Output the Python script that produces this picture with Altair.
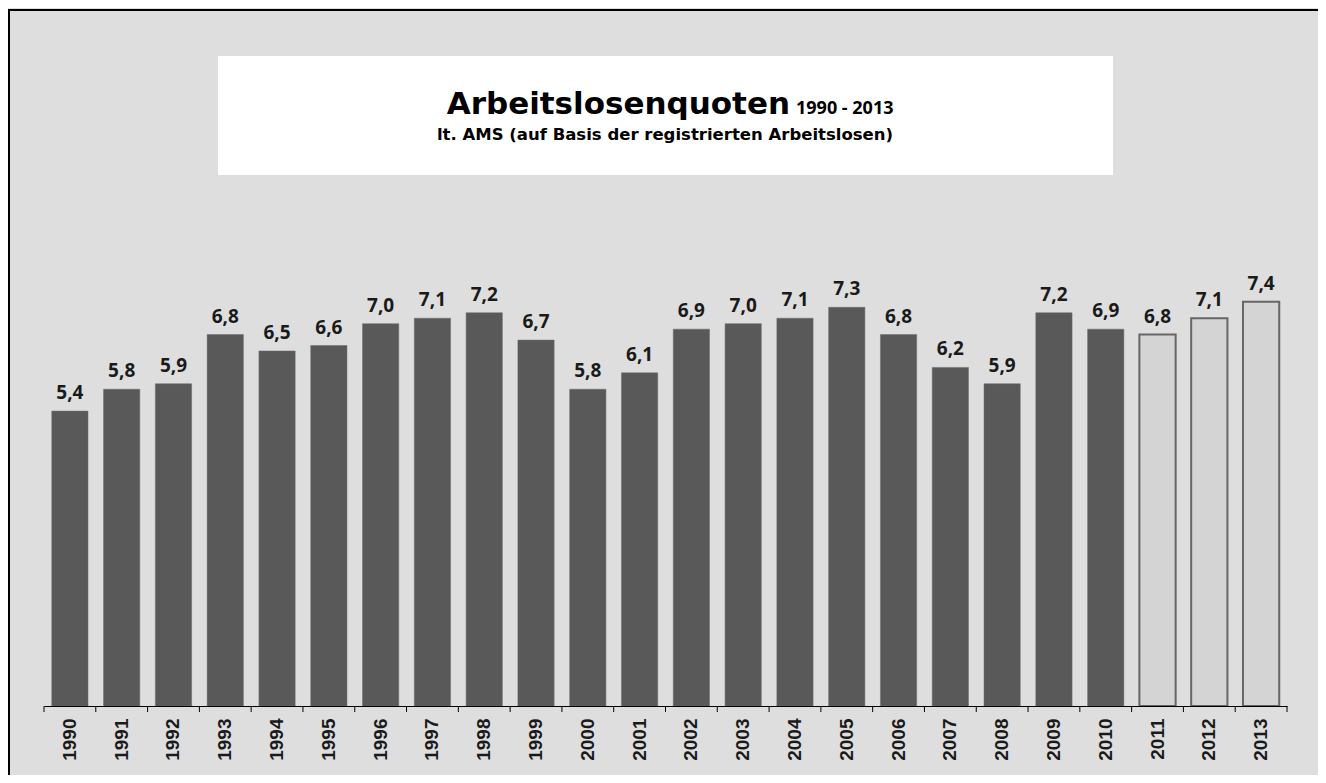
import altair as alt
import pandas as pd

years = [str(y) for y in range(1990, 2014)]
values = [5.4, 5.8, 5.9, 6.8, 6.5, 6.6, 7.0, 7.1, 7.2, 6.7, 5.8, 6.1,
          6.9, 7.0, 7.1, 7.3, 6.8, 6.2, 5.9, 7.2, 6.9, 6.8, 7.1, 7.4]
kind = ["ist"] * 21 + ["prognose"] * 3
title_main = "Arbeitslosenquoten"
title_years = "1990 - 2013"
subtitle = "lt. AMS (auf Basis der registrierten Arbeitslosen)"

W, H = 1243, 698
YMAX = 12.78
BG = "#dedede"

df = pd.DataFrame({
    "Jahr": years,
    "Wert": values,
    "Art": kind,
    "Label": [f"{v:.1f}".replace(".", ",") for v in values],
})
ticks_df = pd.DataFrame({"pos": list(range(len(years) + 1))})
one = pd.DataFrame({"k": [0]})

xband = alt.X("Jahr:N", sort=years, title=None,
              scale=alt.Scale(paddingInner=0.3, paddingOuter=0.15),
              axis=alt.Axis(orient="bottom", zindex=2, labelAngle=270,
                            labelFont="Liberation Sans",
                            labelFontWeight="bold", labelFontSize=19,
                            labelColor="#1a1a1a", tickSize=0, labelPadding=12,
                            domainColor="#000000", domainWidth=1,
                            labelBaseline="middle", labelAlign="right"))
xband_nolabels = alt.X("Jahr:N", sort=years, title=None,
                       scale=alt.Scale(paddingInner=0.3, paddingOuter=0.15),
                       axis=None)
yq = alt.Y("Wert:Q", scale=alt.Scale(domain=[0, YMAX]), axis=None)

border = alt.Chart(one).mark_rect(fill=BG, stroke="#000000", strokeWidth=2).encode(
    x=alt.value(-35), x2=alt.value(W + 32), y=alt.value(2), y2=alt.value(H + 80))

title_box = alt.Chart(one).mark_rect(fill="#ffffff").encode(
    x=alt.value(174), x2=alt.value(1069), y=alt.value(48), y2=alt.value(167))

t1 = alt.Chart(one).mark_text(text=title_main, font="DejaVu Sans", fontWeight="bold",
                              fontSize=31, align="right", baseline="alphabetic",
                              color="#000000").encode(x=alt.value(746), y=alt.value(106))
t2 = alt.Chart(one).mark_text(text=title_years, font="Open Sans", fontWeight="bold",
                              fontSize=18, align="left", baseline="alphabetic",
                              color="#000000").encode(x=alt.value(752), y=alt.value(106))
t3 = alt.Chart(one).mark_text(text=subtitle, font="DejaVu Sans", fontWeight="bold",
                              fontSize=16.5, align="center", baseline="alphabetic",
                              color="#000000").encode(x=alt.value(621), y=alt.value(132))

bars = alt.Chart(df).mark_bar().encode(
    x=xband, y=yq,
    fill=alt.Fill("Art:N", scale=alt.Scale(domain=["ist", "prognose"],
                                           range=["#595959", "#d4d4d4"]), legend=None),
    stroke=alt.Stroke("Art:N", scale=alt.Scale(domain=["ist", "prognose"],
                                               range=["#6a6a6a", "#666666"]), legend=None),
    strokeWidth=alt.StrokeWidth("Art:N", scale=alt.Scale(domain=["ist", "prognose"],
                                                         range=[0.5, 2]), legend=None),
)
labels = alt.Chart(df).mark_text(font="Open Sans", fontWeight="bold", fontSize=19,
                                 color="#1a1a1a", baseline="alphabetic", dy=-12).encode(
    x=xband_nolabels, y=yq, text="Label:N")

ticks = alt.Chart(ticks_df).mark_rule(color="#000000", strokeWidth=1).encode(
    x=alt.X("pos:Q", scale=alt.Scale(domain=[0, len(years)]), axis=None),
    y=alt.value(H), y2=alt.value(H + 6))

chart = alt.layer(border, title_box, t1, t2, t3, bars, labels, ticks).resolve_scale(
    x="independent", fill="independent", stroke="independent", strokeWidth="independent"
).properties(
    width=W, height=H,
    autosize=alt.AutoSizeParams(type="none"),
    padding={"left": 36, "top": 0, "right": 31, "bottom": 69},
    background=BG,
).configure_view(stroke=None)

chart.save("out.html", embed_options={"renderer": "svg", "actions": False})
